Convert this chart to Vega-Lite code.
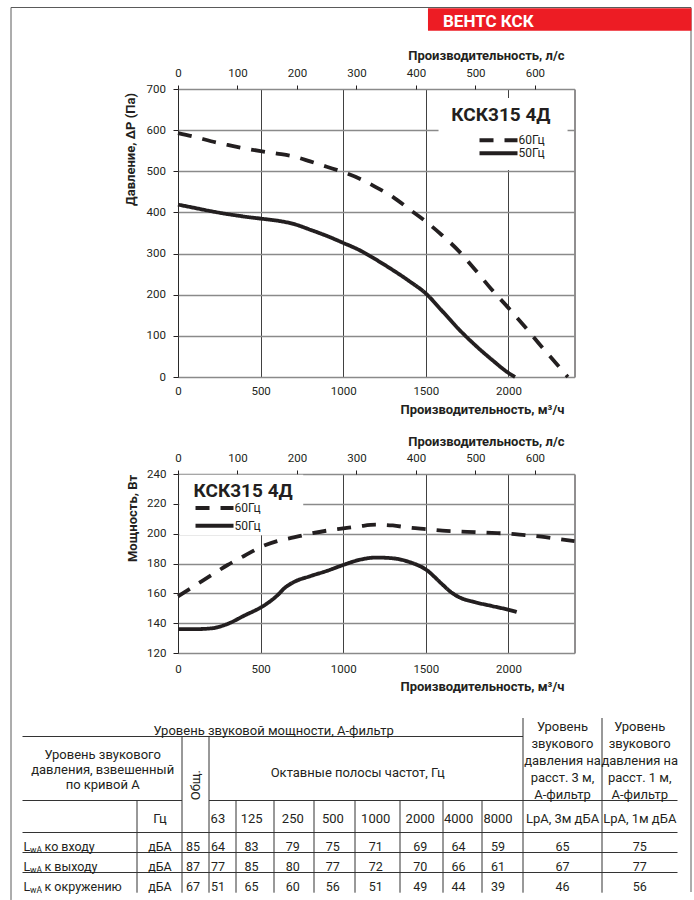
{
  "$schema": "https://vega.github.io/schema/vega-lite/v6.json",
  "autosize": {"type": "pad"},
  "padding": {"left": 10, "top": 7, "right": 0, "bottom": 0},
  "background": "white",
  "datasets": {
    "p1": [
      {"flow": 0, "dp": 593, "freq": "60Гц"}, {"flow": 100, "dp": 584, "freq": "60Гц"}, {"flow": 200, "dp": 573, "freq": "60Гц"},
      {"flow": 300, "dp": 564, "freq": "60Гц"}, {"flow": 400, "dp": 556, "freq": "60Гц"}, {"flow": 500, "dp": 549, "freq": "60Гц"},
      {"flow": 600, "dp": 543, "freq": "60Гц"}, {"flow": 700, "dp": 536, "freq": "60Гц"}, {"flow": 800, "dp": 524, "freq": "60Гц"},
      {"flow": 900, "dp": 511, "freq": "60Гц"}, {"flow": 1000, "dp": 498, "freq": "60Гц"}, {"flow": 1100, "dp": 482, "freq": "60Гц"},
      {"flow": 1200, "dp": 461, "freq": "60Гц"}, {"flow": 1300, "dp": 438, "freq": "60Гц"}, {"flow": 1400, "dp": 408, "freq": "60Гц"},
      {"flow": 1500, "dp": 378, "freq": "60Гц"}, {"flow": 1600, "dp": 344, "freq": "60Гц"}, {"flow": 1700, "dp": 306, "freq": "60Гц"},
      {"flow": 1800, "dp": 260, "freq": "60Гц"}, {"flow": 1900, "dp": 212, "freq": "60Гц"}, {"flow": 2000, "dp": 168, "freq": "60Гц"},
      {"flow": 2100, "dp": 122, "freq": "60Гц"}, {"flow": 2200, "dp": 74, "freq": "60Гц"}, {"flow": 2300, "dp": 28, "freq": "60Гц"},
      {"flow": 2360, "dp": 0, "freq": "60Гц"},
      {"flow": 0, "dp": 419, "freq": "50Гц"}, {"flow": 100, "dp": 411, "freq": "50Гц"}, {"flow": 200, "dp": 403, "freq": "50Гц"},
      {"flow": 300, "dp": 396, "freq": "50Гц"}, {"flow": 400, "dp": 390, "freq": "50Гц"}, {"flow": 500, "dp": 385, "freq": "50Гц"},
      {"flow": 600, "dp": 380, "freq": "50Гц"}, {"flow": 700, "dp": 372, "freq": "50Гц"}, {"flow": 800, "dp": 358, "freq": "50Гц"},
      {"flow": 900, "dp": 343, "freq": "50Гц"}, {"flow": 1000, "dp": 326, "freq": "50Гц"}, {"flow": 1100, "dp": 308, "freq": "50Гц"},
      {"flow": 1200, "dp": 285, "freq": "50Гц"}, {"flow": 1300, "dp": 260, "freq": "50Гц"}, {"flow": 1400, "dp": 233, "freq": "50Гц"},
      {"flow": 1500, "dp": 203, "freq": "50Гц"}, {"flow": 1600, "dp": 160, "freq": "50Гц"}, {"flow": 1700, "dp": 116, "freq": "50Гц"},
      {"flow": 1800, "dp": 77, "freq": "50Гц"}, {"flow": 1900, "dp": 42, "freq": "50Гц"}, {"flow": 2000, "dp": 10, "freq": "50Гц"},
      {"flow": 2040, "dp": 0, "freq": "50Гц"}
    ],
    "p2": [
      {"flow": 0, "power": 158, "freq": "60Гц"}, {"flow": 100, "power": 165, "freq": "60Гц"}, {"flow": 200, "power": 172, "freq": "60Гц"},
      {"flow": 300, "power": 179, "freq": "60Гц"}, {"flow": 400, "power": 185, "freq": "60Гц"}, {"flow": 500, "power": 191, "freq": "60Гц"},
      {"flow": 600, "power": 195, "freq": "60Гц"}, {"flow": 700, "power": 197.5, "freq": "60Гц"}, {"flow": 800, "power": 200, "freq": "60Гц"},
      {"flow": 900, "power": 202, "freq": "60Гц"}, {"flow": 1000, "power": 203.5, "freq": "60Гц"}, {"flow": 1100, "power": 205, "freq": "60Гц"},
      {"flow": 1200, "power": 206, "freq": "60Гц"}, {"flow": 1300, "power": 205.5, "freq": "60Гц"}, {"flow": 1400, "power": 204, "freq": "60Гц"},
      {"flow": 1500, "power": 203, "freq": "60Гц"}, {"flow": 1600, "power": 202, "freq": "60Гц"}, {"flow": 1700, "power": 201.5, "freq": "60Гц"},
      {"flow": 1800, "power": 201, "freq": "60Гц"}, {"flow": 1900, "power": 200.5, "freq": "60Гц"}, {"flow": 2000, "power": 200, "freq": "60Гц"},
      {"flow": 2100, "power": 199, "freq": "60Гц"}, {"flow": 2200, "power": 198, "freq": "60Гц"}, {"flow": 2300, "power": 196.5, "freq": "60Гц"},
      {"flow": 2400, "power": 195, "freq": "60Гц"},
      {"flow": 0, "power": 136, "freq": "50Гц"}, {"flow": 100, "power": 136, "freq": "50Гц"}, {"flow": 200, "power": 136.5, "freq": "50Гц"},
      {"flow": 300, "power": 139.5, "freq": "50Гц"}, {"flow": 400, "power": 145, "freq": "50Гц"}, {"flow": 500, "power": 150.5, "freq": "50Гц"},
      {"flow": 550, "power": 154, "freq": "50Гц"}, {"flow": 600, "power": 158.5, "freq": "50Гц"}, {"flow": 650, "power": 164, "freq": "50Гц"},
      {"flow": 700, "power": 167.5, "freq": "50Гц"}, {"flow": 800, "power": 171.5, "freq": "50Гц"}, {"flow": 900, "power": 175, "freq": "50Гц"},
      {"flow": 1000, "power": 179, "freq": "50Гц"}, {"flow": 1100, "power": 182.5, "freq": "50Гц"}, {"flow": 1200, "power": 184, "freq": "50Гц"},
      {"flow": 1300, "power": 183.5, "freq": "50Гц"}, {"flow": 1400, "power": 181, "freq": "50Гц"}, {"flow": 1500, "power": 176, "freq": "50Гц"},
      {"flow": 1600, "power": 166, "freq": "50Гц"}, {"flow": 1650, "power": 161, "freq": "50Гц"}, {"flow": 1700, "power": 157.5, "freq": "50Гц"},
      {"flow": 1800, "power": 154, "freq": "50Гц"}, {"flow": 1900, "power": 151.5, "freq": "50Гц"}, {"flow": 2000, "power": 149, "freq": "50Гц"},
      {"flow": 2050, "power": 147.5, "freq": "50Гц"}
    ],
    "sound": [
      {"src": "ко входу", "unit": "дБА", "tot": 85, "b63": 64, "b125": 83, "b250": 79, "b500": 75, "b1000": 71, "b2000": 69, "b4000": 64, "b8000": 59, "lp3": 65, "lp1": 75},
      {"src": "к выходу", "unit": "дБА", "tot": 87, "b63": 77, "b125": 85, "b250": 80, "b500": 77, "b1000": 72, "b2000": 70, "b4000": 66, "b8000": 61, "lp3": 67, "lp1": 77},
      {"src": "к окружению", "unit": "дБА", "tot": 67, "b63": 51, "b125": 65, "b250": 60, "b500": 56, "b1000": 51, "b2000": 49, "b4000": 44, "b8000": 39, "lp3": 46, "lp1": 56}
    ],
    "tcols": [
      {"col": "unit", "c": 1.51, "head": "Гц"},
      {"col": "tot", "c": 2.41, "head": ""},
      {"col": "b63", "c": 3.33, "head": "63"},
      {"col": "b125", "c": 4.41, "head": "125"},
      {"col": "b250", "c": 5.47, "head": "250"},
      {"col": "b500", "c": 6.46, "head": "500"},
      {"col": "b1000", "c": 7.46, "head": "1000"},
      {"col": "b2000", "c": 8.47, "head": "2000"},
      {"col": "b4000", "c": 9.4, "head": "4000"},
      {"col": "b8000", "c": 10.39, "head": "8000"},
      {"col": "lp3", "c": 11.5, "head": "LpA, 3м дБА"},
      {"col": "lp1", "c": 12.5, "head": "LpA, 1м дБА"}
    ],
    "tgrid": [
      {"c": 0, "c2": 11, "r": 1, "r2": 1},
      {"c": 0, "c2": 2, "r": 2, "r2": 2},
      {"c": 3, "c2": 13, "r": 2, "r2": 2},
      {"c": 0, "c2": 13, "r": 3, "r2": 3},
      {"c": 0, "c2": 13, "r": 4, "r2": 4},
      {"c": 0, "c2": 13, "r": 5, "r2": 5},
      {"c": 1, "c2": 1, "r": 2, "r2": 6},
      {"c": 2, "c2": 2, "r": 1, "r2": 6},
      {"c": 3, "c2": 3, "r": 1, "r2": 6},
      {"c": 4, "c2": 4, "r": 2, "r2": 6},
      {"c": 5, "c2": 5, "r": 2, "r2": 6},
      {"c": 6, "c2": 6, "r": 2, "r2": 6},
      {"c": 7, "c2": 7, "r": 2, "r2": 6},
      {"c": 8, "c2": 8, "r": 2, "r2": 6},
      {"c": 9, "c2": 9, "r": 2, "r2": 6},
      {"c": 10, "c2": 10, "r": 2, "r2": 6},
      {"c": 11, "c2": 11, "r": 0, "r2": 6},
      {"c": 12, "c2": 12, "r": 0, "r2": 6}
    ],
    "thead": [
      {"t": "Уровень звуковой мощности, А-фильтр", "c": 4.99, "r": 0.68},
      {"t": "Уровень звукового\nдавления, взвешенный\nпо кривой А", "c": 0.7, "r": 1.29},
      {"t": "Октавные полосы частот, Гц", "c": 7.06, "r": 1.57}
    ],
    "tlpa": [
      {"t": "Уровень\nзвукового\nдавления на\nрасст. 3 м,\nА-фильтр", "c": 11.5, "r": 0.49},
      {"t": "Уровень\nзвукового\nдавления на\nрасст. 1 м,\nА-фильтр", "c": 12.5, "r": 0.49}
    ],
    "trows": [
      {"src": "ко входу", "r": 3.5},
      {"src": "к выходу", "r": 4.5},
      {"src": "к окружению", "r": 5.5}
    ]
  },
  "config": {
    "font": "Roboto",
    "view": {"stroke": null},
    "axis": {
      "labelFont": "Roboto",
      "labelFontSize": 11.5,
      "labelColor": "#231f20",
      "titleFont": "Roboto",
      "titleFontSize": 13,
      "titleFontWeight": "bold",
      "titleColor": "#231f20",
      "domain": false,
      "tickColor": "#231f20",
      "labelFlush": false,
      "labelOverlap": false,
      "format": "d"
    },
    "text": {"font": "Roboto", "color": "#231f20"}
  },
  "vconcat": [
    {
      "width": 396.5,
      "height": 82,
      "layer": [
        {
          "data": {"values": [{}]},
          "mark": {"type": "rule", "color": "#5a5a5a", "strokeWidth": 1},
          "encoding": {
            "x": {"datum": 0, "type": "quantitative", "axis": null, "scale": {"domain": [0, 1], "range": [-167, 513], "nice": false, "zero": false}},
            "x2": {"datum": 1},
            "y": {"datum": 0, "type": "quantitative", "axis": null, "scale": {"domain": [0, 1], "range": [0.5, 885], "nice": false, "zero": false}}
          }
        },
        {
          "data": {"values": [{}]},
          "mark": {"type": "rule", "color": "#5a5a5a", "strokeWidth": 1},
          "encoding": {
            "x": {"datum": 0, "type": "quantitative", "axis": null},
            "y": {"datum": 0, "type": "quantitative", "axis": null},
            "y2": {"datum": 1.009}
          }
        },
        {
          "data": {"values": [{}]},
          "mark": {"type": "rule", "color": "#5a5a5a", "strokeWidth": 1},
          "encoding": {
            "x": {"datum": 1, "type": "quantitative", "axis": null},
            "y": {"datum": 0, "type": "quantitative", "axis": null},
            "y2": {"datum": 1}
          }
        },
        {
          "data": {"values": [{}]},
          "mark": {"type": "rect", "color": "#ED1C24"},
          "encoding": {
            "x": {"datum": 0.6132, "type": "quantitative", "axis": null},
            "x2": {"datum": 1.0007},
            "y": {"datum": 0.0009, "type": "quantitative", "axis": null},
            "y2": {"datum": 0.0262}
          }
        },
        {
          "data": {"values": [{"brand": "ВЕНТС КСК"}]},
          "mark": {"type": "text", "align": "left", "baseline": "middle", "fontSize": 17, "fontWeight": "bold", "color": "white", "dy": 1},
          "encoding": {
            "x": {"datum": 0.6353, "type": "quantitative", "axis": null},
            "y": {"datum": 0.015, "type": "quantitative", "axis": null},
            "text": {"field": "brand", "type": "nominal"}
          }
        }
      ]
    },
    {
      "width": 396.5,
      "height": 288,
      "view": {"stroke": "#231f20", "strokeWidth": 1},
      "resolve": {"axis": {"x": "independent", "y": "independent"}},
      "layer": [
        {
          "data": {"values": [{}]},
          "mark": {"type": "rect", "fill": "white"},
          "encoding": {
            "x": {"datum": 1577, "type": "quantitative", "axis": null},
            "x2": {"datum": 2358},
            "y": {"datum": 678, "type": "quantitative", "axis": null},
            "y2": {"datum": 503}
          }
        },
        {
          "data": {"name": "p1"},
          "mark": {"type": "line", "interpolate": "monotone", "strokeWidth": 3.8, "color": "#231f20", "strokeCap": "butt"},
          "encoding": {
            "x": {
              "field": "flow", "type": "quantitative",
              "scale": {"domain": [0, 2400], "nice": false, "zero": false},
              "axis": {
                "orient": "bottom", "values": [0, 500, 1000, 1500, 2000],
                "grid": true, "gridColor": "#2b2b2b", "gridWidth": 0.9,
                "ticks": false, "labelPadding": 8.5,
                "title": "Производительность, м³/ч",
                "titleX": 386, "titleY": 36, "titleAlign": "right", "titleBaseline": "alphabetic"
              }
            },
            "y": {
              "field": "dp", "type": "quantitative",
              "scale": {"domain": [0, 700], "nice": false, "zero": false},
              "axis": {
                "orient": "left",
                "values": [0, 100, 200, 300, 400, 500, 600, 700],
                "grid": true, "gridColor": "#8a8a8a", "gridWidth": 1.3,
                "tickSize": 5, "labelPadding": 7.5,
                "title": "Давление, ΔP (Па)",
                "titleX": -48, "titleY": 60, "titleAngle": 270, "titleAlign": "center", "titleBaseline": "middle"
              }
            },
            "strokeDash": {
              "field": "freq", "type": "nominal",
              "scale": {"domain": ["60Гц", "50Гц"], "range": [[14, 11], [1, 0]]},
              "legend": null
            }
          }
        },
        {
          "data": {"name": "p1"},
          "mark": {"type": "point", "opacity": 0},
          "encoding": {
            "x": {
              "field": "flow", "type": "quantitative",
              "axis": {
                "orient": "top", "values": [0, 360, 720, 1080, 1440, 1800, 2160],
                "labelExpr": "format(datum.value / 3.6, 'd')",
                "grid": false, "tickSize": 4, "labelPadding": 6.5,
                "title": "Производительность, л/с",
                "titleX": 386, "titleY": -29.5, "titleAlign": "right", "titleBaseline": "alphabetic"
              }
            }
          }
        },
        {
          "data": {"values": [{}]},
          "mark": {"type": "text", "align": "right", "baseline": "alphabetic", "fontSize": 19, "fontWeight": "bold"},
          "encoding": {
            "x": {"datum": 2255, "type": "quantitative", "axis": null},
            "y": {"datum": 622, "type": "quantitative", "axis": null},
            "text": {"value": "КСК315 4Д"}
          }
        },
        {
          "data": {"values": [{}]},
          "mark": {"type": "rule", "strokeWidth": 4, "strokeDash": [14, 11], "color": "#231f20"},
          "encoding": {
            "x": {"datum": 1825, "type": "quantitative", "axis": null},
            "x2": {"datum": 2055},
            "y": {"datum": 575.3, "type": "quantitative", "axis": null}
          }
        },
        {
          "data": {"values": [{}]},
          "mark": {"type": "rule", "strokeWidth": 4, "color": "#231f20"},
          "encoding": {
            "x": {"datum": 1825, "type": "quantitative", "axis": null},
            "x2": {"datum": 2055},
            "y": {"datum": 543.7, "type": "quantitative", "axis": null}
          }
        },
        {
          "data": {"values": [{}]},
          "mark": {"type": "text", "align": "left", "baseline": "middle", "dx": 1, "fontSize": 12},
          "encoding": {
            "x": {"datum": 2055, "type": "quantitative", "axis": null},
            "y": {"datum": 575.3, "type": "quantitative", "axis": null},
            "text": {"value": "60Гц"}
          }
        },
        {
          "data": {"values": [{}]},
          "mark": {"type": "text", "align": "left", "baseline": "middle", "dx": 1, "fontSize": 12},
          "encoding": {
            "x": {"datum": 2055, "type": "quantitative", "axis": null},
            "y": {"datum": 543.7, "type": "quantitative", "axis": null},
            "text": {"value": "50Гц"}
          }
        }
      ]
    },
    {"width": 396.5, "height": 96.3, "data": {"values": []}, "mark": "rect"},
    {
      "width": 396.5,
      "height": 179,
      "view": {"stroke": "#231f20", "strokeWidth": 1},
      "resolve": {"axis": {"x": "independent", "y": "independent"}},
      "layer": [
        {
          "data": {"values": [{}]},
          "mark": {"type": "rect", "fill": "white"},
          "encoding": {
            "x": {"datum": 8, "type": "quantitative", "axis": null},
            "x2": {"datum": 758},
            "y": {"datum": 239.5, "type": "quantitative", "axis": null},
            "y2": {"datum": 199}
          }
        },
        {
          "data": {"name": "p2"},
          "mark": {"type": "line", "interpolate": "monotone", "strokeWidth": 3.8, "color": "#231f20", "strokeCap": "butt"},
          "encoding": {
            "x": {
              "field": "flow", "type": "quantitative",
              "scale": {"domain": [0, 2400], "nice": false, "zero": false},
              "axis": {
                "orient": "bottom", "values": [0, 500, 1000, 1500, 2000],
                "grid": true, "gridColor": "#2b2b2b", "gridWidth": 0.9,
                "ticks": false, "labelPadding": 10,
                "title": "Производительность, м³/ч",
                "titleX": 386, "titleY": 37.5, "titleAlign": "right", "titleBaseline": "alphabetic"
              }
            },
            "y": {
              "field": "power", "type": "quantitative",
              "scale": {"domain": [120, 240], "nice": false, "zero": false},
              "axis": {
                "orient": "left",
                "values": [120, 140, 160, 180, 200, 220, 240],
                "grid": true, "gridColor": "#8a8a8a", "gridWidth": 1.3,
                "tickSize": 5, "labelPadding": 7,
                "title": "Мощность, Вт",
                "titleX": -46, "titleY": 44, "titleAngle": 270, "titleAlign": "center", "titleBaseline": "middle"
              }
            },
            "strokeDash": {
              "field": "freq", "type": "nominal",
              "scale": {"domain": ["60Гц", "50Гц"], "range": [[14, 11], [1, 0]]},
              "legend": null
            }
          }
        },
        {
          "data": {"name": "p2"},
          "mark": {"type": "point", "opacity": 0},
          "encoding": {
            "x": {
              "field": "flow", "type": "quantitative",
              "axis": {
                "orient": "top", "values": [0, 360, 720, 1080, 1440, 1800, 2160],
                "labelExpr": "format(datum.value / 3.6, 'd')",
                "grid": false, "tickSize": 4, "labelPadding": 6.5,
                "title": "Производительность, л/с",
                "titleX": 386, "titleY": -28.5, "titleAlign": "right", "titleBaseline": "alphabetic"
              }
            }
          }
        },
        {
          "data": {"values": [{}]},
          "mark": {"type": "text", "align": "left", "baseline": "alphabetic", "fontSize": 19, "fontWeight": "bold"},
          "encoding": {
            "x": {"datum": 94, "type": "quantitative", "axis": null},
            "y": {"datum": 224.6, "type": "quantitative", "axis": null},
            "text": {"value": "КСК315 4Д"}
          }
        },
        {
          "data": {"values": [{}]},
          "mark": {"type": "rule", "strokeWidth": 4, "strokeDash": [14, 11], "color": "#231f20"},
          "encoding": {
            "x": {"datum": 106, "type": "quantitative", "axis": null},
            "x2": {"datum": 336},
            "y": {"datum": 217.2, "type": "quantitative", "axis": null}
          }
        },
        {
          "data": {"values": [{}]},
          "mark": {"type": "rule", "strokeWidth": 4, "color": "#231f20"},
          "encoding": {
            "x": {"datum": 106, "type": "quantitative", "axis": null},
            "x2": {"datum": 336},
            "y": {"datum": 205.3, "type": "quantitative", "axis": null}
          }
        },
        {
          "data": {"values": [{}]},
          "mark": {"type": "text", "align": "left", "baseline": "middle", "dx": 1, "fontSize": 12},
          "encoding": {
            "x": {"datum": 336, "type": "quantitative", "axis": null},
            "y": {"datum": 217.2, "type": "quantitative", "axis": null},
            "text": {"value": "60Гц"}
          }
        },
        {
          "data": {"values": [{}]},
          "mark": {"type": "text", "align": "left", "baseline": "middle", "dx": 1, "fontSize": 12},
          "encoding": {
            "x": {"datum": 336, "type": "quantitative", "axis": null},
            "y": {"datum": 205.3, "type": "quantitative", "axis": null},
            "text": {"value": "50Гц"}
          }
        }
      ]
    },
    {"width": 396.5, "height": 64.7, "data": {"values": []}, "mark": "rect"},
    {
      "width": 396.5,
      "height": 175,
      "layer": [
        {
          "data": {"name": "tgrid"},
          "mark": {"type": "rule", "color": "#333333", "strokeWidth": 1},
          "encoding": {
            "x": {
              "field": "c", "type": "quantitative", "axis": null,
              "scale": {
                "domain": [0, 1, 2, 3, 4, 5, 6, 7, 8, 9, 10, 11, 12, 13],
                "range": [-155.5, -41, 4, 31, 58, 96, 136, 177, 222, 265, 304, 345, 424, 499.5],
                "nice": false, "zero": false
              }
            },
            "x2": {"field": "c2"},
            "y": {
              "field": "r", "type": "quantitative", "axis": null,
              "scale": {
                "domain": [0, 1, 2, 3, 4, 5, 6],
                "range": [0, 18.5, 82.5, 114.5, 134.5, 154.5, 174.7],
                "nice": false, "zero": false
              }
            },
            "y2": {"field": "r2"}
          }
        },
        {
          "data": {"name": "thead"},
          "mark": {"type": "text", "align": "center", "baseline": "middle", "fontSize": 13, "lineBreak": "\n", "lineHeight": 15},
          "encoding": {
            "x": {"field": "c", "type": "quantitative", "axis": null},
            "y": {"field": "r", "type": "quantitative", "axis": null},
            "text": {"field": "t", "type": "nominal"}
          }
        },
        {
          "data": {"name": "tlpa"},
          "mark": {"type": "text", "align": "center", "baseline": "middle", "fontSize": 13, "lineBreak": "\n", "lineHeight": 17},
          "encoding": {
            "x": {"field": "c", "type": "quantitative", "axis": null},
            "y": {"field": "r", "type": "quantitative", "axis": null},
            "text": {"field": "t", "type": "nominal"}
          }
        },
        {
          "data": {"values": [{}]},
          "mark": {"type": "text", "align": "center", "baseline": "middle", "fontSize": 13, "angle": 270},
          "encoding": {
            "x": {"datum": 2.5, "type": "quantitative", "axis": null},
            "y": {"datum": 1.76, "type": "quantitative", "axis": null},
            "text": {"value": "Общ."}
          }
        },
        {
          "data": {"name": "tcols"},
          "mark": {"type": "text", "align": "center", "baseline": "middle", "fontSize": 13, "dy": 2},
          "encoding": {
            "x": {"field": "c", "type": "quantitative", "axis": null},
            "y": {"datum": 2.5, "type": "quantitative", "axis": null},
            "text": {"field": "head", "type": "nominal"}
          }
        },
        {
          "data": {"name": "sound"},
          "transform": [
            {"lookup": "src", "from": {"data": {"name": "trows"}, "key": "src", "fields": ["r"]}}
          ],
          "layer": [
            {
              "transform": [
                {"fold": ["unit", "tot", "b63", "b125", "b250", "b500", "b1000", "b2000", "b4000", "b8000", "lp3", "lp1"], "as": ["col", "val"]},
                {"lookup": "col", "from": {"data": {"name": "tcols"}, "key": "col", "fields": ["c"]}}
              ],
              "mark": {"type": "text", "align": "center", "baseline": "middle", "fontSize": 12.5, "dy": 4},
              "encoding": {
                "x": {"field": "c", "type": "quantitative", "axis": null},
                "y": {"field": "r", "type": "quantitative", "axis": null},
                "text": {"field": "val", "type": "nominal"}
              }
            },
            {
              "mark": {"type": "text", "align": "left", "baseline": "middle", "fontSize": 12.5, "dx": 1, "dy": 4},
              "encoding": {
                "x": {"datum": 0, "type": "quantitative", "axis": null},
                "y": {"field": "r", "type": "quantitative", "axis": null},
                "text": {"value": "L"}
              }
            },
            {
              "mark": {"type": "text", "align": "left", "baseline": "middle", "fontSize": 8.5, "dx": 7.5, "dy": 7},
              "encoding": {
                "x": {"datum": 0, "type": "quantitative", "axis": null},
                "y": {"field": "r", "type": "quantitative", "axis": null},
                "text": {"value": "wA"}
              }
            },
            {
              "mark": {"type": "text", "align": "left", "baseline": "middle", "fontSize": 12.5, "dx": 22, "dy": 4},
              "encoding": {
                "x": {"datum": 0, "type": "quantitative", "axis": null},
                "y": {"field": "r", "type": "quantitative", "axis": null},
                "text": {"field": "src", "type": "nominal"}
              }
            }
          ]
        }
      ]
    }
  ],
  "spacing": 0,
  "bounds": "flush"
}
